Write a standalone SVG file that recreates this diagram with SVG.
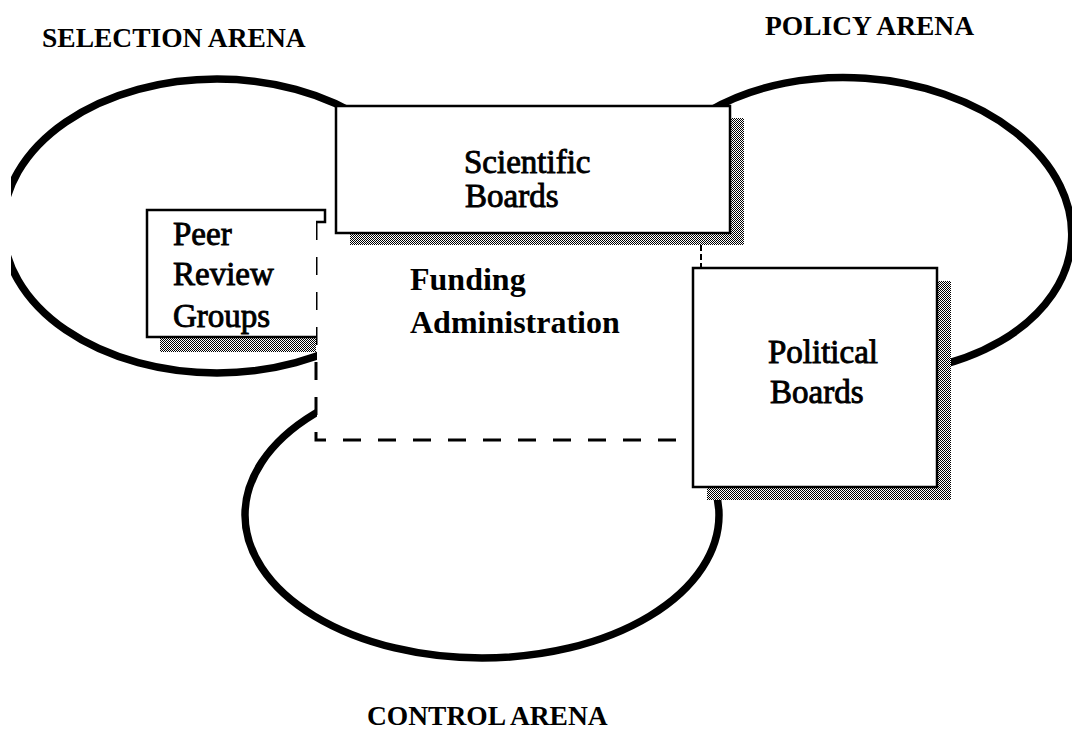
<svg xmlns="http://www.w3.org/2000/svg" width="1072" height="735" viewBox="0 0 1072 735">
<style>
.arena{fill:none;stroke:#000;stroke-width:7.5}
.box{fill:#fff;stroke:#000;stroke-width:2.5}
.shadow{fill:url(#dither);stroke:none}
.lbl{font-family:"Liberation Serif","Times New Roman",serif;font-size:33px;fill:#000;stroke:#000;stroke-width:0.9}
.fund{font-family:"Liberation Serif","Times New Roman",serif;font-size:32px;font-weight:bold;fill:#000}
.title{font-family:"Liberation Serif","Times New Roman",serif;font-size:27.5px;font-weight:bold;fill:#000}
.dash{fill:none;stroke:#000;stroke-width:3;stroke-dasharray:18 17}
</style>
<defs>
<pattern id="dither" patternUnits="userSpaceOnUse" width="2" height="2">
<rect width="2" height="2" fill="#fff"/>
<rect width="1" height="1" fill="#000"/>
<rect x="1" y="1" width="1" height="1" fill="#000"/>
</pattern>
<clipPath id="clipL"><rect x="11" y="0" width="1061" height="735"/></clipPath>
</defs>
<rect width="1072" height="735" fill="#fff"/>

<g id="arenas">
<ellipse id="selection-arena" class="arena" cx="217" cy="226" rx="214" ry="147" clip-path="url(#clipL)"/>
<ellipse id="policy-arena" class="arena" cx="855" cy="226" rx="217" ry="148" transform="rotate(4 855 226)"/>
<ellipse id="control-arena" class="arena" cx="482" cy="515" rx="237" ry="143"/>
</g>

<g id="funding-administration">
<rect x="317" y="222" width="384" height="221" fill="#fff"/>
<rect x="317" y="233" width="20" height="10" fill="#fff"/>
<rect x="640" y="440" width="55" height="16" fill="#fff"/>
<path class="dash" d="M316,222 V440 H679"/>
<path d="M701,245 V268" fill="none" stroke="#000" stroke-width="2" stroke-dasharray="6 3"/>
<text class="fund" x="410" y="290">Funding</text>
<text class="fund" x="410" y="333">Administration</text>
</g>

<g id="peer-review-groups">
<rect class="shadow" x="160" y="337" width="156" height="15"/>
<rect x="147" y="210" width="169" height="127" fill="#fff"/>
<path d="M316,337 H147 V210 H325 V222 H316" fill="none" stroke="#000" stroke-width="2.5"/>
<text class="lbl" x="173" y="245">Peer</text>
<text class="lbl" x="173" y="285">Review</text>
<text class="lbl" x="173" y="327">Groups</text>
</g>

<g id="scientific-boards">
<rect class="shadow" x="350" y="118" width="394" height="127"/>
<rect class="box" x="336" y="106" width="394" height="127"/>
<text class="lbl" x="464" y="173">Scientific</text>
<text class="lbl" x="465" y="207">Boards</text>
</g>

<g id="political-boards">
<rect class="shadow" x="707" y="281" width="244" height="219"/>
<rect class="box" x="693" y="268" width="244" height="219"/>
<text class="lbl" x="768" y="363">Political</text>
<text class="lbl" x="770" y="403">Boards</text>
</g>

<g id="titles">
<text class="title" x="42" y="47">SELECTION ARENA</text>
<text class="title" x="765" y="35">POLICY ARENA</text>
<text class="title" x="367" y="725">CONTROL ARENA</text>
</g>
</svg>
